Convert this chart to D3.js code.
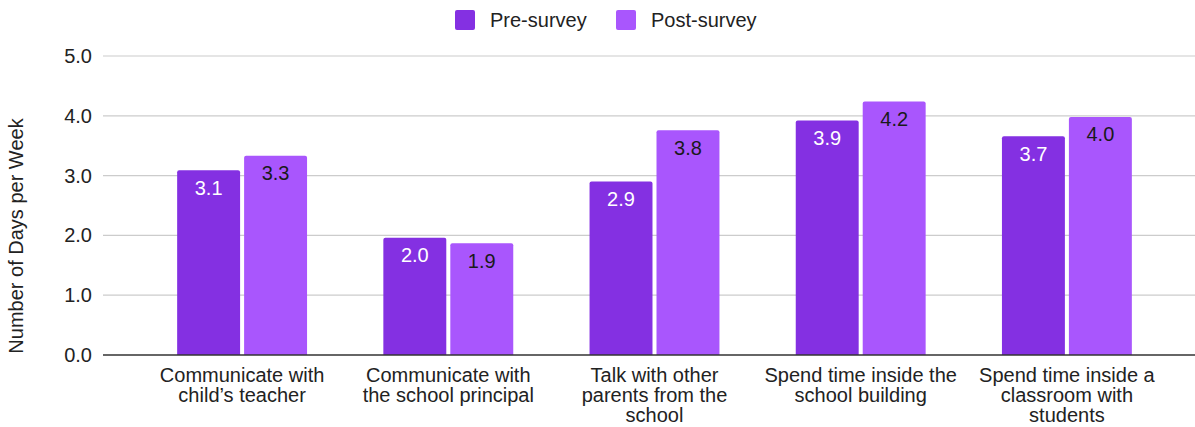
<!DOCTYPE html>
<html>
<head>
<meta charset="utf-8">
<script src="https://cdn.jsdelivr.net/npm/d3@7"></script>
<style>
  body { margin: 0; background: #fff; }
  text { font-family: "Liberation Sans", Arial, sans-serif; }
</style>
</head>
<body>
<div id="chart"></div>
<script>
// data
var categories = [
  "Communicate with\nchild’s teacher",
  "Communicate with\nthe school principal",
  "Talk with other\nparents from the\nschool",
  "Spend time inside the\nschool building",
  "Spend time inside a\nclassroom with\nstudents"
];
var seriesNames = ["Pre-survey", "Post-survey"];
var preSurvey = [3.09, 1.96, 2.90, 3.92, 3.66];
var postSurvey = [3.33, 1.87, 3.76, 4.24, 3.98];
var yTicks = [0, 1, 2, 3, 4, 5];
var colors = ["#8430e2", "#a956fd"];
var labelColors = ["#ffffff", "#1a1a1a"];

var width = 1195, height = 427;
var margin = {top: 56, right: 0, bottom: 72, left: 103};

var svg = d3.select("#chart")
  .append("svg")
    .attr("width", width)
    .attr("height", height);

// scales
var x0 = d3.scaleBand()
  .domain(d3.range(categories.length))
  .range([139, 1170])
  .paddingInner(0.37)
  .paddingOuter(0.185);

var x1 = d3.scaleBand()
  .domain(seriesNames)
  .range([0, x0.bandwidth()])
  .paddingInner(0.06);

var y = d3.scaleLinear()
  .domain([0, 5])
  .range([height - margin.bottom, margin.top]);

// gridlines
svg.append("g")
  .selectAll("line")
  .data(yTicks.slice(1))
  .enter()
  .append("line")
    .attr("x1", margin.left)
    .attr("x2", width)
    .attr("y1", function(d) { return y(d); })
    .attr("y2", function(d) { return y(d); })
    .attr("stroke", "#cccccc")
    .attr("stroke-width", 1.2);

// y axis labels
var yAxis = d3.axisLeft(y)
  .tickValues(yTicks)
  .tickFormat(d3.format(".1f"))
  .tickSize(0)
  .tickPadding(11);
svg.append("g")
  .attr("transform", "translate(" + margin.left + ",0)")
  .call(yAxis)
  .call(function(g) { g.select(".domain").remove(); })
  .selectAll("text")
    .attr("font-size", 20)
    .attr("fill", "#222");

// y title
svg.append("text")
  .attr("transform", "translate(23," + 236 + ")rotate(-90)")
  .attr("text-anchor", "middle")
  .attr("font-size", 20)
  .attr("fill", "#222")
  .text("Number of Days per Week");

// bars
var rows = categories.map(function(c, i) {
  return [
    {cat: i, series: seriesNames[0], value: preSurvey[i], k: 0},
    {cat: i, series: seriesNames[1], value: postSurvey[i], k: 1}
  ];
});

var groups = svg.append("g")
  .selectAll("g")
  .data(rows)
  .enter()
  .append("g")
    .attr("transform", function(d, i) { return "translate(" + x0(i) + ",0)"; });

groups.selectAll("path")
  .data(function(d) { return d; })
  .enter()
  .append("path")
    .attr("fill", function(d) { return colors[d.k]; })
    .attr("d", function(d) {
      var bx = x1(d.series), bw = x1.bandwidth();
      var top = y(d.value), bot = y(0), r = 2;
      return "M" + bx + "," + bot +
        "V" + (top + r) +
        "Q" + bx + "," + top + " " + (bx + r) + "," + top +
        "H" + (bx + bw - r) +
        "Q" + (bx + bw) + "," + top + " " + (bx + bw) + "," + (top + r) +
        "V" + bot + "Z";
    });

groups.selectAll("text")
  .data(function(d) { return d; })
  .enter()
  .append("text")
    .attr("x", function(d) { return x1(d.series) + x1.bandwidth() / 2; })
    .attr("y", function(d) { return y(d.value) + 24.5; })
    .attr("text-anchor", "middle")
    .attr("font-family", "Roboto, sans-serif")
    .attr("font-size", 20)
    .attr("fill", function(d) { return labelColors[d.k]; })
    .text(function(d) { return d3.format(".1f")(d.value); });

// baseline
svg.append("line")
  .attr("x1", margin.left)
  .attr("x2", width)
  .attr("y1", y(0))
  .attr("y2", y(0))
  .attr("stroke", "#333")
  .attr("stroke-width", 1.5);

// category labels
var catLabels = svg.append("g")
  .selectAll("text")
  .data(categories)
  .enter()
  .append("text")
    .attr("text-anchor", "middle")
    .attr("font-size", 20)
    .attr("fill", "#222")
    .attr("transform", function(d, i) {
      return "translate(" + (x0(i) + x0.bandwidth() / 2) + ",382)";
    });

catLabels.selectAll("tspan")
  .data(function(d) { return d.split("\n"); })
  .enter()
  .append("tspan")
    .attr("x", 0)
    .attr("y", function(d, i) { return i * 20; })
    .text(function(d) { return d; });

// legend
var legendX = [455, 616];
var legend = svg.append("g")
  .selectAll("g")
  .data(seriesNames)
  .enter()
  .append("g")
    .attr("transform", function(d, i) { return "translate(" + legendX[i] + ",10)"; });

legend.append("rect")
  .attr("width", 20)
  .attr("height", 20)
  .attr("rx", 2)
  .attr("fill", function(d, i) { return colors[i]; });

legend.append("text")
  .attr("x", 35)
  .attr("y", 16.5)
  .attr("font-size", 20)
  .attr("fill", "#222")
  .text(function(d) { return d; });
</script>
</body>
</html>
